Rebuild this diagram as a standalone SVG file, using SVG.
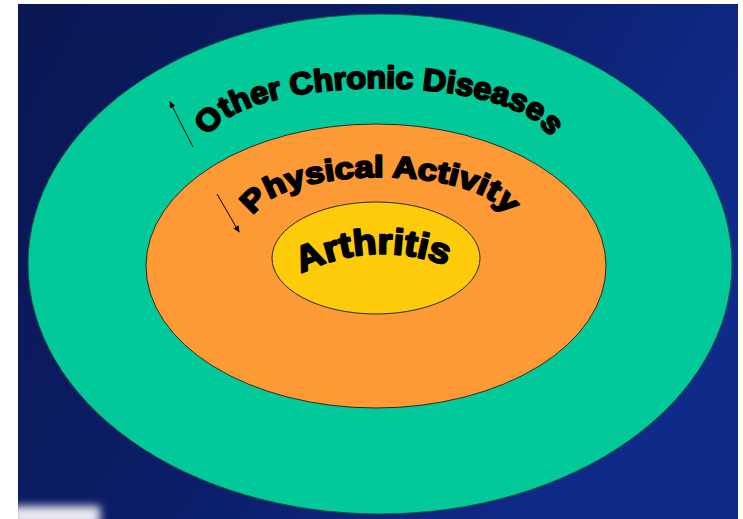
<svg xmlns="http://www.w3.org/2000/svg" xmlns:xlink="http://www.w3.org/1999/xlink" width="743" height="519" viewBox="0 0 743 519">
  <defs>
    <linearGradient id="bg" x1="0" y1="0" x2="1" y2="0.4">
      <stop offset="0" stop-color="#0a1752"/>
      <stop offset="0.5" stop-color="#0b1d68"/>
      <stop offset="1" stop-color="#0f2b8a"/>
    </linearGradient>
    <filter id="blur" x="-50%" y="-50%" width="200%" height="200%">
      <feGaussianBlur stdDeviation="4"/>
    </filter>
    <marker id="ah" markerWidth="8" markerHeight="8" refX="6" refY="3" orient="auto" markerUnits="userSpaceOnUse">
      <path d="M0,0 L7,3 L0,6 z" fill="#000"/>
    </marker>
    <path id="p1" d="M 208 144 A 171 56 0 0 1 550 144"/>
    <path id="p2" d="M 253 222 A 127 45 0 0 1 507 222"/>
    <path id="p3" d="M 300 274 Q 372 238 448 266"/>
  </defs>
  <style>
    .lbl { font-family: "Liberation Sans", Arial, sans-serif; font-weight: bold; fill: #000; stroke: #000; stroke-width: 2; stroke-linejoin: round; }
    .ring { stroke: #2b2b1f; stroke-width: 1; }
    .arrow { stroke: #000; stroke-width: 1; fill: none; marker-end: url(#ah); }
  </style>
  <rect x="0" y="0" width="743" height="519" fill="#ffffff"/>
  <rect x="18" y="4" width="720" height="515" fill="url(#bg)"/>
  <rect x="12" y="506" width="88" height="20" fill="#e8e8f0" filter="url(#blur)"/>
  <rect x="0" y="0" width="18" height="519" fill="#ffffff"/>

  <g id="outer">
    <ellipse cx="380" cy="264" rx="352" ry="250" fill="#02c999" stroke="#15503f" stroke-width="1"/>
    <text class="lbl" font-size="31"><textPath xlink:href="#p1" href="#p1" startOffset="50%" text-anchor="middle" textLength="366" lengthAdjust="spacingAndGlyphs">Other Chronic Diseases</textPath></text>
  </g>
  <g id="middle">
    <ellipse class="ring" cx="376" cy="266" rx="230" ry="142" fill="#fd9a36"/>
    <text class="lbl" font-size="30"><textPath xlink:href="#p2" href="#p2" startOffset="50%" text-anchor="middle" textLength="274" lengthAdjust="spacingAndGlyphs">Physical Activity</textPath></text>
  </g>
  <g id="inner">
    <ellipse class="ring" cx="376" cy="258" rx="104" ry="56" fill="#fecb0a"/>
    <text class="lbl" font-size="36"><textPath xlink:href="#p3" href="#p3" startOffset="50%" text-anchor="middle" textLength="150" lengthAdjust="spacingAndGlyphs">Arthritis</textPath></text>
  </g>
  <g id="connectors">
    <line class="arrow" x1="193" y1="147" x2="170" y2="102"/>
    <line class="arrow" x1="217" y1="194" x2="239" y2="232"/>
  </g>
</svg>
